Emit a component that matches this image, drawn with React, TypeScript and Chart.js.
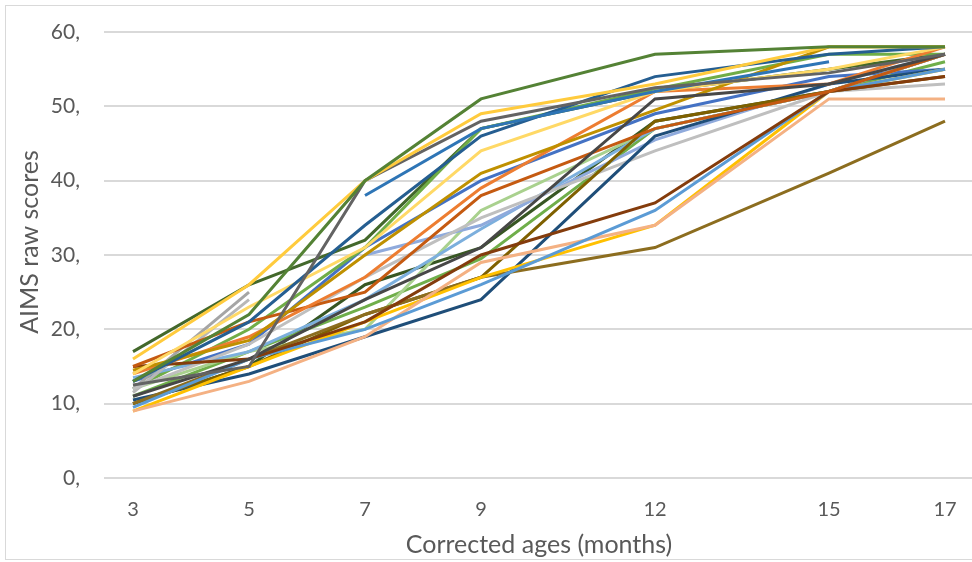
import React, { useEffect, useRef } from "react";
import { Chart, registerables } from "chart.js";

Chart.register(...registerables);

// Corrected ages (months) on a linear x axis
const ages = [3, 5, 7, 9, 12, 15, 17];
const xTicks = [3, 5, 7, 9, 12, 15, 17];
const yTicks = [0, 10, 20, 30, 40, 50, 60];

// AIMS raw scores per child at ages 3,5,7,9,12,15,17 (null = not measured)
const c01 = [13, 22, 40, 51, 57, 58, 58];
const c02 = [16, 26, 40, 49, 53, 58, 58];
const c03 = [12.5, 15, 40, 48, 52.5, 54.5, 57];
const c04 = [11, 16, 24, 31, 51, 53, 57];
const c05 = [null, null, 38, 47, 52, 56, null];
const c06 = [13, 21, 34, 46, 54, 57, 58];
const c07 = [14, 23, 31, 44, 52, 55, 58];
const c08 = [14.5, 18.5, 30, 41, 49.5, 58, 58];
const c09 = [14, 19, 27, 39, 52, 53, 58];
const c10 = [15, 21, 25, 38, 47, 52, 57];
const c11 = [15, 16, 21, 30, 37, 52, 54];
const c12 = [9.5, 16, 20, 26, 36, 52, 55];
const c13 = [9, 13, 19, 29, 34, 51, 51];
const c14 = [9, 15, 21, 27, 34, 52, 55];
const c15 = [10, 16, 22, 27, 31, 41, 48];
const c16 = [10, 15, 22, 27, 48, 52, 54];
const c17 = [10.5, 14, 19, 24, 46, 53, 55];
const c18 = [12, 18, 27, 35, 44, 52, 53];
const c19 = [12, 25, null, null, null, null, null];
const c20 = [11.5, 24, null, null, null, null, null];
const c21 = [null, null, 30, 34, 45.5, 53, 57];
const c22 = [13.5, 17, 24, 33.5, 47, 52, 57];
const c23 = [12, 17, 20, 36, 47, 52, 57];
const c24 = [12, 20, 31, 47, 52.3, 57, 57];
const c25 = [13, 18, 31, 40, 49, 54, 55];
const c26 = [11, 17, 23, 29.5, 47, 52, 56];
const c27 = [17, 26, 32, 47, 52, 55, 57];
const c28 = [10, 15, 26, 31, 48, 52, 57];

const seriesValues = [
  c01, c02, c03, c04, c05, c06, c07, c08, c09, c10, c11, c12, c13, c14,
  c15, c16, c17, c18, c19, c20, c21, c22, c23, c24, c25, c26, c27, c28,
];

const seriesColors = [
  "#548235", "#FFCB3D", "#636363", "#474747", "#2E75B6", "#255E91", "#FFD966",
  "#BF9000", "#ED7D31", "#C55A11", "#843C0C", "#5B9BD5", "#F4B183", "#FFC000",
  "#8C6D1F", "#7F6000", "#1F4E79", "#BFBFBF", "#A5A5A5", "#B7B7B7", "#8FAADC",
  "#7CAFDD", "#A9D18E", "#70AD47", "#4472C4", "#6FAE4A", "#43682B", "#375623",
];

const X_TITLE = "Corrected ages (months)";
const Y_TITLE = "AIMS raw scores";

const FONT = "Lato, 'Open Sans', sans-serif";
const TEXT = "#595959";

const yTitlePlugin = {
  id: "yTitleManual",
  afterDraw(chart: any) {
    const ctx = chart.ctx;
    ctx.save();
    ctx.translate(30, 242);
    ctx.rotate(-Math.PI / 2);
    ctx.fillStyle = TEXT;
    ctx.font = "25px " + FONT;
    ctx.textAlign = "center";
    ctx.textBaseline = "middle";
    ctx.fillText(Y_TITLE, 0, 0);
    ctx.restore();
  },
};

export default function App() {
  const ref = useRef<HTMLCanvasElement | null>(null);

  useEffect(() => {
    document.body.style.margin = "0";
    const canvas = ref.current;
    if (!canvas) return;
    const datasets = seriesValues.map((vals, i) => ({
      label: "Child " + (i + 1),
      data: ages.map((a, j) => ({ x: a, y: vals[j] })),
      borderColor: seriesColors[i],
      backgroundColor: seriesColors[i],
      borderWidth: 3,
      pointRadius: 0,
      tension: 0,
      spanGaps: false,
      fill: false,
    }));
    const chart = new Chart(canvas, {
      type: "line",
      data: { datasets },
      plugins: [yTitlePlugin],
      options: {
        responsive: false,
        animation: false,
        devicePixelRatio: 1,
        layout: { padding: { left: 0, right: 6, top: 32, bottom: 0 } },
        plugins: { legend: { display: false }, tooltip: { enabled: false } },
        scales: {
          x: {
            type: "linear",
            min: 2.5,
            max: 17.5,
            grid: { display: false, drawTicks: false },
            border: { display: false },
            afterBuildTicks: (scale: any) => {
              scale.ticks = xTicks.map((v) => ({ value: v }));
            },
            afterFit: (scale: any) => {
              scale.height = 84;
            },
            ticks: {
              padding: 20,
              color: TEXT,
              font: { family: FONT, size: 20 },
              autoSkip: false,
              maxRotation: 0,
              callback: (v: any) => String(v),
            },
            title: {
              display: true,
              text: X_TITLE,
              color: TEXT,
              font: { family: FONT, size: 25 },
              padding: { top: 0, bottom: 2 },
            },
          },
          y: {
            type: "linear",
            min: 0,
            max: 60,
            afterBuildTicks: (scale: any) => {
              scale.ticks = yTicks.map((v) => ({ value: v }));
            },
            afterFit: (scale: any) => {
              scale.width = 104;
            },
            grid: {
              color: "#D9D9D9",
              lineWidth: 2,
              drawTicks: true,
              tickLength: 20,
              tickColor: "rgba(0,0,0,0)",
            },
            border: { display: false },
            ticks: {
              padding: 4,
              color: TEXT,
              font: { family: FONT, size: 21 },
              callback: (v: any) => v + ",",
            },
            title: { display: false },
          },
        },
      },
    });
    return () => chart.destroy();
  }, []);

  return (
    <div
      style={{
        position: "relative",
        width: 972,
        height: 562,
        overflow: "hidden",
        background: "#ffffff",
      }}
    >
      <canvas
        ref={ref}
        width={980}
        height={562}
        style={{ position: "absolute", left: 0, top: 0, width: 980, height: 562 }}
      />
      <div
        style={{
          position: "absolute",
          left: 5,
          top: 5,
          width: 975,
          height: 553,
          border: "1px solid #D9D9D9",
          pointerEvents: "none",
        }}
      />
    </div>
  );
}
